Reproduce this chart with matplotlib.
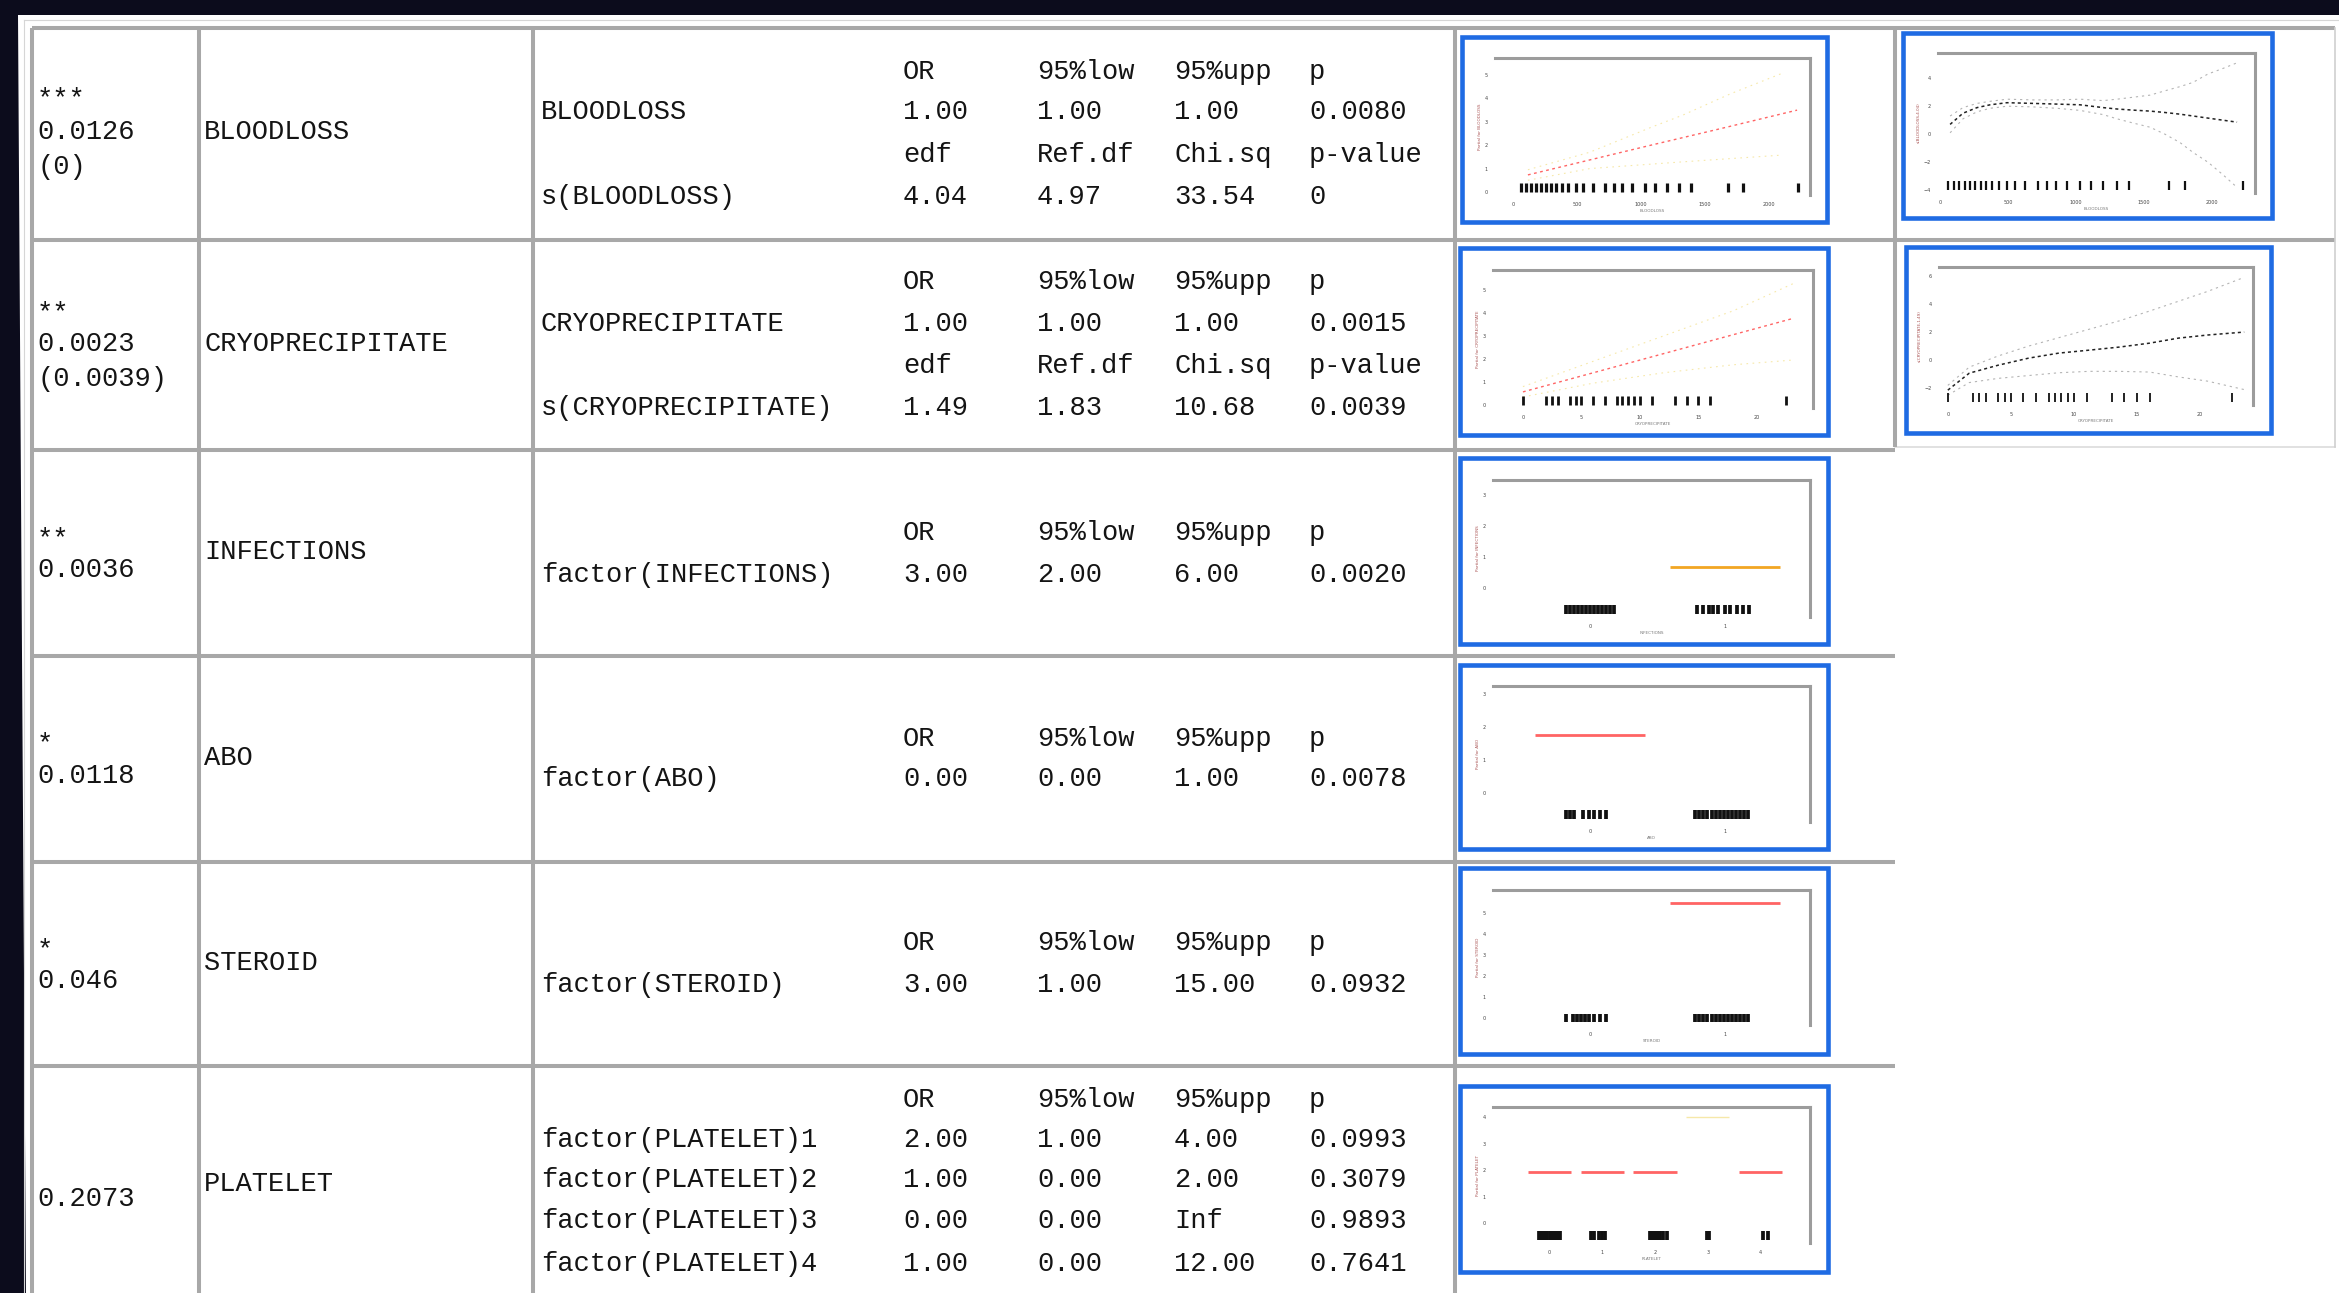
import numpy as np
import matplotlib
matplotlib.use("Agg")
import matplotlib.pyplot as plt
from matplotlib.patches import Rectangle, Polygon

# ---------------- data ----------------
terms = ["BLOODLOSS", "CRYOPRECIPITATE", "INFECTIONS", "ABO", "STEROID", "PLATELET"]
signif = ["***", "**", "**", "*", "*", ""]
term_p = ["0.0126", "0.0023", "0.0036", "0.0118", "0.046", "0.2073"]
smooth_term_p = ["(0)", "(0.0039)", "", "", "", ""]

coef_header = ["OR", "95%low", "95%upp", "p"]
smooth_header = ["edf", "Ref.df", "Chi.sq", "p-value"]

bloodloss_coef = ["1.00", "1.00", "1.00", "0.0080"]
bloodloss_smooth = ["4.04", "4.97", "33.54", "0"]
cryo_coef = ["1.00", "1.00", "1.00", "0.0015"]
cryo_smooth = ["1.49", "1.83", "10.68", "0.0039"]
infections_coef = ["3.00", "2.00", "6.00", "0.0020"]
abo_coef = ["0.00", "0.00", "1.00", "0.0078"]
steroid_coef = ["3.00", "1.00", "15.00", "0.0932"]
platelet_rows = ["factor(PLATELET)1", "factor(PLATELET)2",
                 "factor(PLATELET)3", "factor(PLATELET)4"]
platelet_coef = [["2.00", "1.00", "4.00", "0.0993"],
                 ["1.00", "0.00", "2.00", "0.3079"],
                 ["0.00", "0.00", "Inf", "0.9893"],
                 ["1.00", "0.00", "12.00", "0.7641"]]

# thumbnail data: BLOODLOSS
bl_rug = [60, 100, 140, 180, 220, 260, 300, 340, 380, 430, 490, 550, 625, 720,
          790, 850, 930, 1030, 1110, 1200, 1300, 1390, 1680, 1800, 2227]
bl_lin_x = [117, 600, 1100, 1600, 2219]
bl_lin_y = [0.73, 1.37, 2.03, 2.68, 3.50]
bl_up_x = [117, 600, 1086, 1328, 1695, 2109]
bl_up_y = [0.95, 1.70, 2.78, 3.29, 4.19, 5.09]
bl_lo_x = [117, 600, 1305, 2109]
bl_lo_y = [0.50, 1.00, 1.28, 1.58]
sbl_x = [74, 169, 272, 368, 493, 684, 860, 1029, 1199, 1301, 1419, 1544, 1654,
         1765, 1860, 1970, 2081, 2184]
sbl_fit = [0.7, 1.5, 1.9, 2.1, 2.25, 2.2, 2.15, 2.1, 1.9, 1.8, 1.72, 1.65, 1.55,
           1.43, 1.3, 1.15, 1.0, 0.86]
sbl_up = [1.3, 1.9, 2.2, 2.35, 2.5, 2.45, 2.45, 2.5, 2.4, 2.5, 2.64, 2.79, 3.1,
          3.4, 3.7, 4.3, 4.7, 5.1]
sbl_lo = [0.1, 1.1, 1.6, 1.85, 2.0, 1.95, 1.85, 1.7, 1.4, 1.1, 0.8, 0.5, 0.0,
          -0.6, -1.3, -2.0, -2.9, -3.8]

# thumbnail data: CRYOPRECIPITATE
cryo_rug = [0, 2, 2.5, 3, 4, 4.5, 5, 6, 7, 8, 8.5, 9, 9.5, 10, 11, 13, 14, 15,
            16, 22.5]
cryo_lin_x = [0, 6, 12, 18, 23.2]
cryo_lin_y = [0.57, 1.40, 2.23, 3.06, 3.78]
cryo_up_y = [0.80, 1.90, 3.00, 4.10, 5.30]
cryo_lo_y = [0.35, 0.95, 1.40, 1.75, 1.96]
scryo_x = [0, 1.7, 4.0, 6.4, 8.8, 11.2, 13.6, 16.0, 18.3, 20.6, 23.5]
scryo_fit = [-2.14, -0.93, -0.36, 0.14, 0.50, 0.71, 0.93, 1.21, 1.57, 1.79, 2.0]
scryo_up = [-1.8, -0.5, 0.3, 1.0, 1.6, 2.2, 2.8, 3.5, 4.2, 4.9, 5.9]
scryo_lo = [-2.5, -1.6, -1.3, -1.1, -0.9, -0.8, -0.8, -0.85, -1.2, -1.5, -2.1]

# factor terms: effect per level (nan = not drawn)
inf_levels = [0, 1]
inf_effect = [np.nan, 0.68]
inf_rug = [-0.18, -0.15, -0.12, -0.09, -0.06, -0.03, 0.0, 0.03, 0.06, 0.09,
           0.12, 0.15, 0.18, 0.79, 0.84, 0.88, 0.91, 0.95, 1.0, 1.04, 1.09,
           1.13, 1.18]
abo_levels = [0, 1]
abo_effect = [1.76, np.nan]
abo_rug = [-0.18, -0.15, -0.12, -0.05, -0.01, 0.03, 0.07, 0.12, 0.78, 0.81,
           0.84, 0.87, 0.90, 0.93, 0.96, 0.99, 1.02, 1.05, 1.08, 1.11, 1.14, 1.17]
steroid_levels = [0, 1]
steroid_effect = [np.nan, 5.48]
steroid_rug = [-0.18, -0.13, -0.10, -0.07, -0.04, -0.01, 0.03, 0.07, 0.12,
               0.78, 0.81, 0.84, 0.87, 0.90, 0.93, 0.96, 0.99, 1.02, 1.05, 1.08,
               1.11, 1.14, 1.17]
platelet_levels = [0, 1, 2, 3, 4]
platelet_effect = [1.92, 1.92, 1.92, np.nan, 1.92]
platelet_faint = [np.nan, np.nan, np.nan, 4.0, np.nan]
platelet_rug = [-0.2, -0.16, -0.12, -0.08, -0.04, 0.0, 0.04, 0.08, 0.12, 0.16,
                0.2, 0.78, 0.85, 0.93, 1.0, 1.06, 1.9, 1.94, 1.98, 2.02, 2.06,
                2.1, 2.16, 2.22, 2.98, 3.03, 4.05, 4.15]

# ---------------- layout / style ----------------
W, H, DPI = 2339, 1293, 100
FONT = ["Liberation Mono", "DejaVu Sans Mono"]
FS = 19.5
TXT = "#141414"
GRID = "#a8a8a8"
BLUE = "#1f6be3"

fig = plt.figure(figsize=(W / DPI, H / DPI), dpi=DPI)
fig.patch.set_facecolor("white")
base = fig.add_axes([0, 0, 1, 1])
base.set_xlim(0, W)
base.set_ylim(H, 0)
base.axis("off")

# dark screen frame (top band + left strip)
base.add_patch(Polygon([(0, 0), (W, 0), (W, 15), (18, 15), (26, H), (0, H)],
                       closed=True, facecolor="#0c0c1c", edgecolor="none", zorder=0))
# faint outer table border
base.plot([24, W], [20, 20], color="#d6d6d6", lw=0.8, zorder=1)
base.plot([24, 24], [20, H], color="#d6d6d6", lw=0.8, zorder=1)

row_edges = [28, 240, 450, 656, 862, 1066]
xL, xC2, xC3, xC4, xC5, xR = 32, 199, 533, 1455, 1895, 2335
lw_grid = 2.9
for y in row_edges[:2]:
    base.plot([xL, xR], [y, y], color=GRID, lw=lw_grid, zorder=2, solid_capstyle="butt")
for y in row_edges[2:]:
    base.plot([xL, xC5], [y, y], color=GRID, lw=lw_grid, zorder=2, solid_capstyle="butt")
base.plot([xC5, xR], [447, 447], color="#dcdcdc", lw=1.2, zorder=2)
for x in (xL, xC2, xC3, xC4):
    base.plot([x, x], [28, H], color=GRID, lw=lw_grid, zorder=2, solid_capstyle="butt")
base.plot([xC5, xC5], [28, 447], color=GRID, lw=lw_grid, zorder=2, solid_capstyle="butt")
base.plot([xR, xR], [28, 447], color="#d0d0d0", lw=1.2, zorder=2)

# text columns
X1, X2, X3 = 37, 204, 541
XC = [903, 1037, 1174, 1309]


def put(x, yc, s, star=False):
    if not s:
        return
    off = 14 if star else 9
    base.text(x, yc + off, s, family=FONT, fontsize=FS, color=TXT,
              ha="left", va="baseline", zorder=4)


def put_row(yc, label, vals):
    put(X3, yc, label)
    for x, v in zip(XC, vals):
        put(x, yc, v)


# column 1 / 2 per row: (star y, p y, smooth p y, term y)
left_pos = [(92, 130, 165, 130), (306, 342, 377, 342), (532, 568, None, 550),
            (737, 774, None, 756), (943, 979, None, 961), (None, 1197, None, 1182)]
for i, (ys, yp, ysp, yt) in enumerate(left_pos):
    if ys is not None:
        put(X1, ys, signif[i], star=True)
    put(X1, yp, term_p[i])
    if ysp is not None:
        put(X1, ysp, smooth_term_p[i])
    put(X2, yt, terms[i])

# column 3 tables
put_row(70, "", coef_header)
put_row(110, "BLOODLOSS", bloodloss_coef)
put_row(153, "", smooth_header)
put_row(195, "s(BLOODLOSS)", bloodloss_smooth)

put_row(280, "", coef_header)
put_row(322, "CRYOPRECIPITATE", cryo_coef)
put_row(364, "", smooth_header)
put_row(406, "s(CRYOPRECIPITATE)", cryo_smooth)

put_row(531, "", coef_header)
put_row(573, "factor(INFECTIONS)", infections_coef)
put_row(737, "", coef_header)
put_row(777, "factor(ABO)", abo_coef)
put_row(941, "", coef_header)
put_row(983, "factor(STEROID)", steroid_coef)
put_row(1098, "", coef_header)
for yc, lab, vals in zip([1138, 1178, 1219, 1262], platelet_rows, platelet_coef):
    put_row(yc, lab, vals)


# ---------------- thumbnails ----------------
def frac(x0, y0, x1, y1):
    return [x0 / W, 1 - y1 / H, (x1 - x0) / W, (y1 - y0) / H]


def make_thumb(box, frame, xlim, ylim, xticks, yticks, xlab, ylab, xticklabels=None):
    base.add_patch(Rectangle((box[0], box[1]), box[2] - box[0], box[3] - box[1],
                             fill=False, edgecolor=BLUE, linewidth=3.3, zorder=6))
    ax = fig.add_axes(frac(*frame))
    ax.set_xlim(*xlim)
    ax.set_ylim(*ylim)
    ax.set_facecolor("none")
    ax.spines["left"].set_visible(False)
    ax.spines["bottom"].set_visible(False)
    for s in ("top", "right"):
        ax.spines[s].set_color("#9c9c9c")
        ax.spines[s].set_linewidth(2.2)
    ax.set_xticks(xticks)
    ax.set_yticks(yticks)
    if xticklabels is not None:
        ax.set_xticklabels(xticklabels)
    ax.tick_params(length=0, labelsize=3.5, labelcolor="#444444", pad=5)
    ax.set_xlabel(xlab, fontsize=3, color="#777777", labelpad=1.5)
    ax.set_ylabel(ylab, fontsize=3, color="#aa5555", labelpad=2)
    return ax


def rug(ax, xs, lw=1.2):
    ax.vlines(xs, 0.02, 0.085, transform=ax.get_xaxis_transform(),
              colors="#111111", linewidth=lw)


RED = "#ff6464"
YEL = "#f1d970"

# BLOODLOSS linear term
ax = make_thumb((1462, 37, 1827, 222), (1495, 58, 1810, 195), (-140, 2320), (-0.13, 5.73),
                [0, 500, 1000, 1500, 2000], [0, 1, 2, 3, 4, 5], "BLOODLOSS",
                "Partial for BLOODLOSS")
ax.plot(bl_lin_x, bl_lin_y, color=RED, lw=1.0, ls=(0, (2, 2.5)))
ax.plot(bl_up_x, bl_up_y, color=YEL, lw=0.8, ls=(0, (1.5, 4)), alpha=0.6)
ax.plot(bl_lo_x, bl_lo_y, color=YEL, lw=0.8, ls=(0, (1.5, 4)), alpha=0.6)
rug(ax, bl_rug, lw=2.3)

# s(BLOODLOSS)
ax = make_thumb((1903, 33, 2272, 218), (1938, 53, 2255, 193), (-15, 2316), (-4.2, 5.8),
                [0, 500, 1000, 1500, 2000], [-4, -2, 0, 2, 4], "BLOODLOSS",
                "s(BLOODLOSS,4.04)")
ax.plot(sbl_x, sbl_fit, color="#222222", lw=1.1, ls=(0, (2, 2)))
ax.plot(sbl_x, sbl_up, color="#b4b4b4", lw=0.8, ls=(0, (2, 3.5)))
ax.plot(sbl_x, sbl_lo, color="#b4b4b4", lw=0.8, ls=(0, (2, 3.5)))
rug(ax, bl_rug, lw=1.6)

# CRYOPRECIPITATE linear term
ax = make_thumb((1460, 248, 1828, 435), (1493, 270, 1813, 408), (-2.56, 24.8), (-0.13, 5.87),
                [0, 5, 10, 15, 20], [0, 1, 2, 3, 4, 5], "CRYOPRECIPITATE",
                "Partial for CRYOPRECIPITATE")
ax.plot(cryo_lin_x, cryo_lin_y, color=RED, lw=1.0, ls=(0, (2, 2.5)))
ax.plot(cryo_lin_x, cryo_up_y, color=YEL, lw=0.8, ls=(0, (1.5, 4)), alpha=0.6)
ax.plot(cryo_lin_x, cryo_lo_y, color=YEL, lw=0.8, ls=(0, (1.5, 4)), alpha=0.6)
rug(ax, cryo_rug, lw=2.0)

# s(CRYOPRECIPITATE)
ax = make_thumb((1906, 247, 2271, 433), (1939, 267, 2253, 405), (-0.7, 24.2), (-3.2, 6.64),
                [0, 5, 10, 15, 20], [-2, 0, 2, 4, 6], "CRYOPRECIPITATE",
                "s(CRYOPRECIPITATE,1.49)")
ax.plot(scryo_x, scryo_fit, color="#222222", lw=1.1, ls=(0, (2, 2)))
ax.plot(scryo_x, scryo_up, color="#b4b4b4", lw=0.8, ls=(0, (2, 3.5)))
ax.plot(scryo_x, scryo_lo, color="#b4b4b4", lw=0.8, ls=(0, (2, 3.5)))
rug(ax, cryo_rug, lw=1.3)


def factor_thumb(box, frame, levels, effect, rugx, ylim, yticks, name, color, faint=None):
    lv = np.array(levels, dtype=float)
    ax = make_thumb(box, frame, (lv[0] - 0.72 * (1 if len(lv) == 2 else 1.49),
                                 lv[-1] + 0.63 * (1 if len(lv) == 2 else 1.49)),
                    ylim, levels, yticks, name, "Partial for " + name,
                    xticklabels=[str(int(v)) for v in levels])
    eff = np.array(effect, dtype=float)
    ok = ~np.isnan(eff)
    ax.hlines(eff[ok], lv[ok] - 0.41, lv[ok] + 0.41, color=color, lw=2.0)
    if faint is not None:
        fa = np.array(faint, dtype=float)
        okf = ~np.isnan(fa)
        ax.hlines(fa[okf], lv[okf] - 0.41, lv[okf] + 0.41, color=YEL, lw=1.0, alpha=0.6)
    rug(ax, rugx, lw=2.7)
    return ax


factor_thumb((1460, 458, 1828, 644), (1493, 480, 1810, 617), inf_levels, inf_effect,
             inf_rug, (-0.94, 3.48), [0, 1, 2, 3], "INFECTIONS", "#f2a623")
factor_thumb((1460, 665, 1828, 849), (1493, 686, 1810, 822), abo_levels, abo_effect,
             abo_rug, (-0.88, 3.24), [0, 1, 2, 3], "ABO", RED)
factor_thumb((1460, 868, 1828, 1054), (1493, 890, 1810, 1025), steroid_levels, steroid_effect,
             steroid_rug, (-0.33, 6.1), [0, 1, 2, 3, 4, 5], "STEROID", RED)
factor_thumb((1460, 1086, 1828, 1272), (1493, 1107, 1810, 1243), platelet_levels,
             platelet_effect, platelet_rug, (-0.75, 4.38), [0, 1, 2, 3, 4], "PLATELET",
             RED, faint=platelet_faint)

fig.savefig("out.png", dpi=DPI, facecolor=fig.get_facecolor())
